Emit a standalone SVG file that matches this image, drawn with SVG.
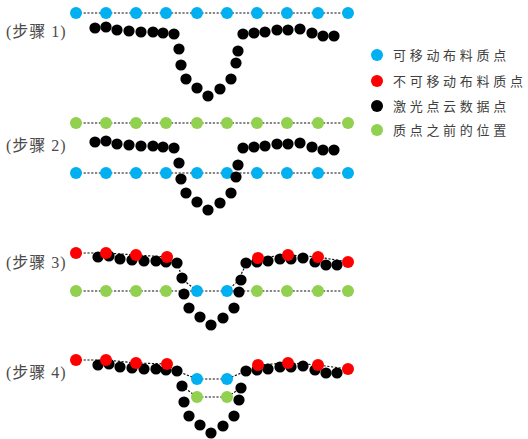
<svg xmlns="http://www.w3.org/2000/svg" width="528" height="439" viewBox="0 0 528 439">
<style>
.lbl{font-family:"Liberation Serif","Noto Sans CJK SC",serif;font-size:16px;fill:#4a4a4a;letter-spacing:1px}
.leg{font-family:"Noto Sans CJK SC","Noto Sans",sans-serif;font-size:13px;fill:#404040;letter-spacing:3.7px}
.b{fill:#00B0F0}.r{fill:#FF0000}.g{fill:#92D050}.k{fill:#000}
.d{fill:none;stroke:#111;stroke-width:1.2;stroke-dasharray:2.2 1.6}
</style>
<defs>
<g id="cloud">
<circle cx="95" cy="28" r="5.6"/><circle cx="106" cy="27" r="5.6"/><circle cx="117" cy="30" r="5.6"/><circle cx="129" cy="31" r="5.6"/><circle cx="141" cy="32" r="5.6"/><circle cx="153" cy="32" r="5.6"/><circle cx="163" cy="33" r="5.6"/><circle cx="174" cy="34" r="5.6"/><circle cx="179" cy="49" r="5.6"/><circle cx="181" cy="65" r="5.6"/><circle cx="186" cy="79" r="5.6"/><circle cx="197" cy="88" r="5.6"/><circle cx="208" cy="96" r="5.6"/><circle cx="220" cy="89" r="5.6"/><circle cx="231" cy="79" r="5.6"/><circle cx="236" cy="63" r="5.6"/><circle cx="238" cy="51" r="5.6"/><circle cx="243" cy="34" r="5.6"/><circle cx="254" cy="33" r="5.6"/><circle cx="265" cy="32" r="5.6"/><circle cx="277" cy="30" r="5.6"/><circle cx="288" cy="30" r="5.6"/><circle cx="300" cy="29" r="5.6"/><circle cx="312" cy="33" r="5.6"/><circle cx="323" cy="36" r="5.6"/><circle cx="334" cy="36" r="5.6"/>
</g>
</defs>

<g id="connectors">
<polyline class="d" points="76,13 348,13"/>
<polyline class="d" points="76,123 348,123"/>
<polyline class="d" points="76,173 348,173"/>
<polyline class="d" points="76,291 348,291"/>
<polyline class="d" points="76,253 106,253 136,255 167,257 178,264 182,279 197,291"/>
<polyline class="d" points="227,291 238,281 246,264 258,258 288,255 318,257 348,262"/>
<polyline class="d" points="76,360 106,360 136,363 167,364 177,371 197,379 227,379 246,371 258,365 288,363 318,365 348,369"/>
<polyline class="d" points="182,386 197,397 227,397 241,388"/>
</g>

<g id="labels">
<text class="lbl" x="6" y="37">(步骤 1)</text>
<text class="lbl" x="6" y="151">(步骤 2)</text>
<text class="lbl" x="6" y="268">(步骤 3)</text>
<text class="lbl" x="6" y="378">(步骤 4)</text>
</g>

<g id="step1">
<g id="step1-movable" class="b">
<circle cx="76" cy="13" r="6"/><circle cx="106" cy="13" r="6"/><circle cx="136" cy="13" r="6"/><circle cx="166" cy="13" r="6"/><circle cx="197" cy="13" r="6"/><circle cx="227" cy="13" r="6"/><circle cx="257" cy="13" r="6"/><circle cx="287" cy="13" r="6"/><circle cx="318" cy="13" r="6"/><circle cx="348" cy="13" r="6"/>
</g>
<use id="step1-cloud" href="#cloud" class="k"/>
</g>

<g id="step2">
<g id="step2-previous" class="g">
<circle cx="76" cy="123" r="6"/><circle cx="106" cy="123" r="6"/><circle cx="136" cy="123" r="6"/><circle cx="166" cy="123" r="6"/><circle cx="197" cy="123" r="6"/><circle cx="227" cy="123" r="6"/><circle cx="257" cy="123" r="6"/><circle cx="287" cy="123" r="6"/><circle cx="318" cy="123" r="6"/><circle cx="348" cy="123" r="6"/>
</g>
<g id="step2-movable" class="b">
<circle cx="76" cy="173" r="6"/><circle cx="106" cy="173" r="6"/><circle cx="136" cy="173" r="6"/><circle cx="166" cy="173" r="6"/><circle cx="197" cy="173" r="6"/><circle cx="227" cy="173" r="6"/><circle cx="257" cy="173" r="6"/><circle cx="287" cy="173" r="6"/><circle cx="318" cy="173" r="6"/><circle cx="348" cy="173" r="6"/>
</g>
<use id="step2-cloud" href="#cloud" class="k" transform="translate(0,114)"/>
</g>

<g id="step3">
<g id="step3-previous" class="g">
<circle cx="76" cy="291" r="6"/><circle cx="106" cy="291" r="6"/><circle cx="136" cy="291" r="6"/><circle cx="166" cy="291" r="6"/><circle cx="257" cy="291" r="6"/><circle cx="287" cy="291" r="6"/><circle cx="318" cy="291" r="6"/><circle cx="348" cy="291" r="6"/>
</g>
<use id="step3-cloud" href="#cloud" class="k" transform="translate(3,229)"/>
<g id="step3-movable" class="b">
<circle cx="197" cy="291" r="6"/><circle cx="227" cy="291" r="6"/>
</g>
<g id="step3-fixed" class="r">
<circle cx="76" cy="253" r="6"/><circle cx="106" cy="253" r="6"/><circle cx="136" cy="255" r="6"/><circle cx="167" cy="257" r="6"/><circle cx="258" cy="258" r="6"/><circle cx="288" cy="255" r="6"/><circle cx="318" cy="257" r="6"/><circle cx="348" cy="262" r="6"/>
</g>
</g>

<g id="step4">
<use id="step4-cloud" href="#cloud" class="k" transform="translate(3,337)"/>
<g id="step4-movable" class="b">
<circle cx="197" cy="379" r="6"/><circle cx="227" cy="379" r="6"/>
</g>
<g id="step4-previous" class="g">
<circle cx="197" cy="397" r="6"/><circle cx="227" cy="397" r="6"/>
</g>
<g id="step4-fixed" class="r">
<circle cx="76" cy="360" r="6"/><circle cx="106" cy="360" r="6"/><circle cx="136" cy="363" r="6"/><circle cx="167" cy="364" r="6"/><circle cx="258" cy="365" r="6"/><circle cx="288" cy="363" r="6"/><circle cx="318" cy="365" r="6"/><circle cx="348" cy="369" r="6"/>
</g>
</g>

<g id="legend">
<g id="legend-movable"><circle class="b" cx="377" cy="55" r="6"/><text class="leg" x="393" y="60">可移动布料质点</text></g>
<g id="legend-fixed"><circle class="r" cx="377" cy="81" r="6"/><text class="leg" x="393" y="86">不可移动布料质点</text></g>
<g id="legend-cloud"><circle class="k" cx="377" cy="106" r="6"/><text class="leg" x="393" y="111">激光点云数据点</text></g>
<g id="legend-previous"><circle class="g" cx="377" cy="130" r="6"/><text class="leg" x="393" y="135">质点之前的位置</text></g>
</g>
</svg>
